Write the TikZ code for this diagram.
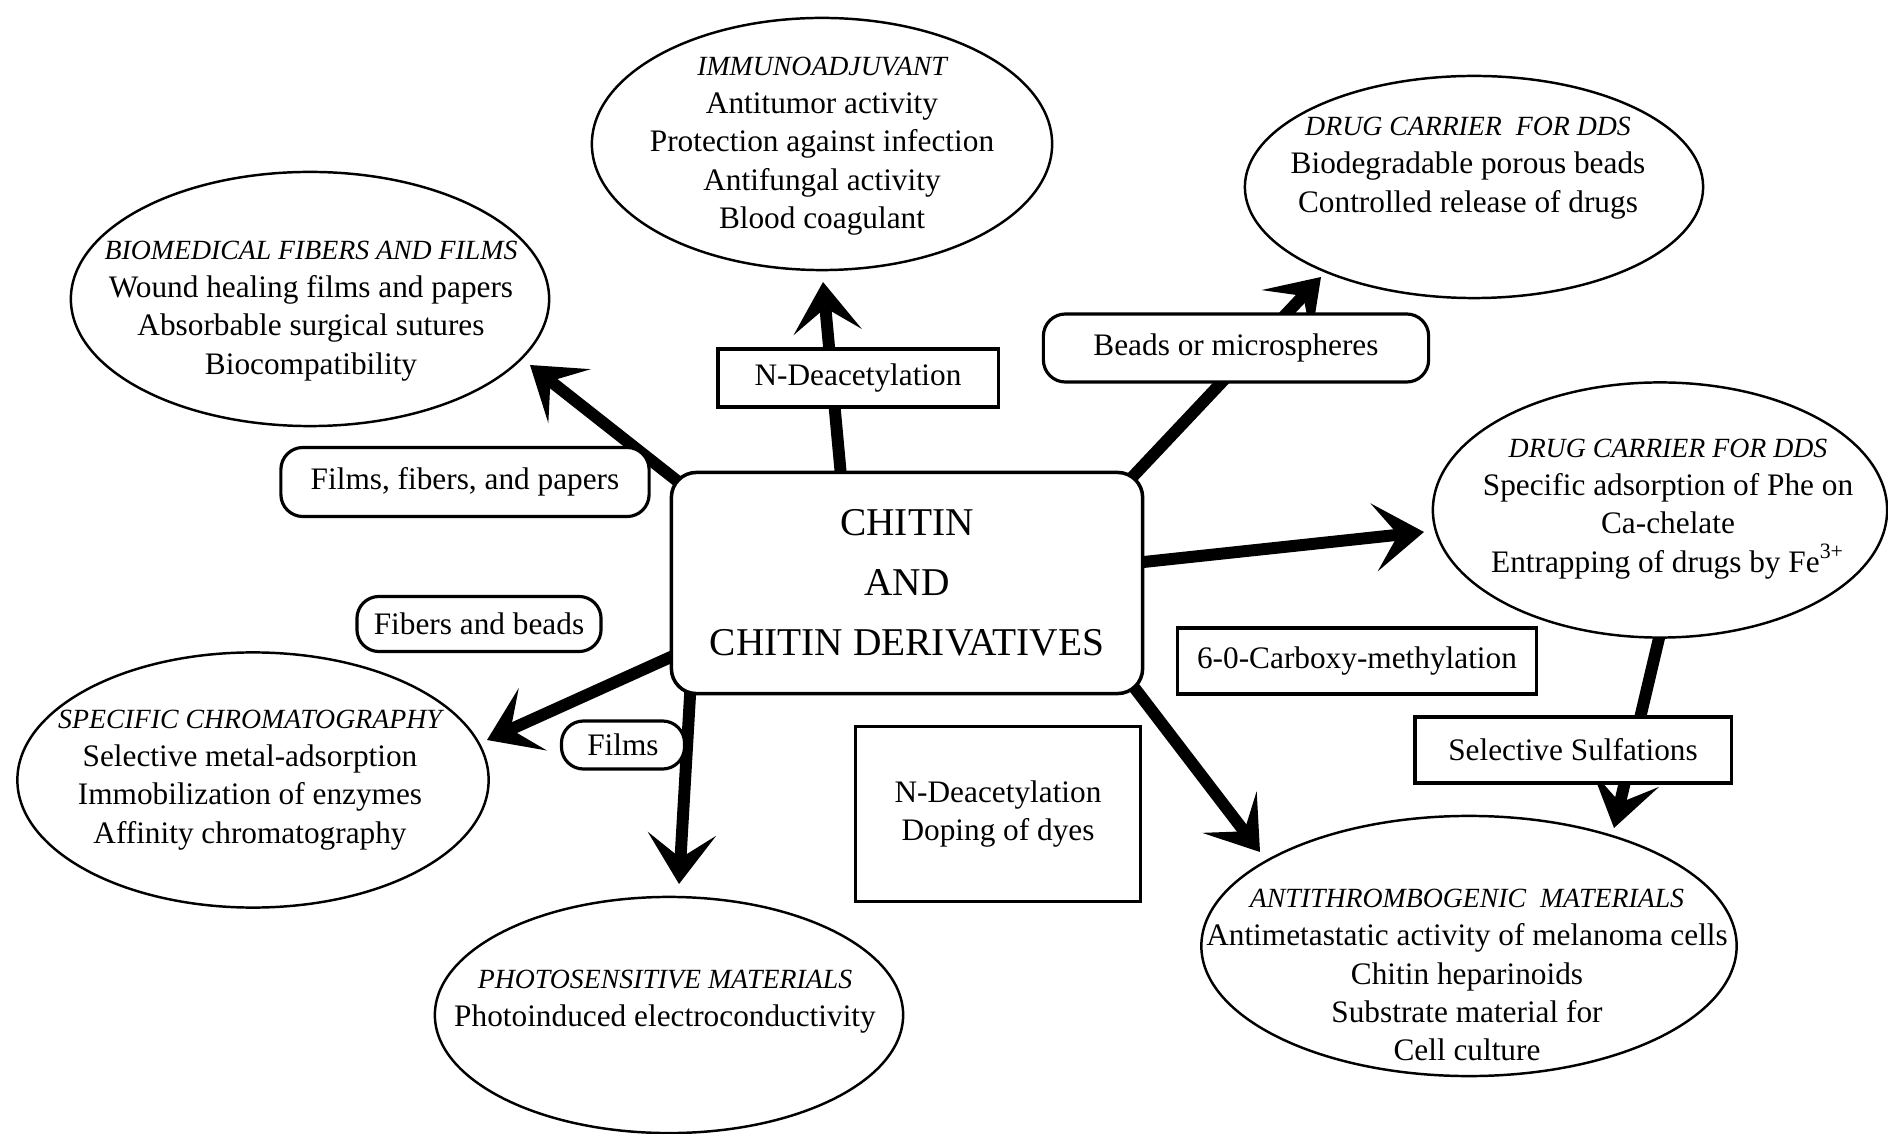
\documentclass[tikz,border=0pt]{standalone}
\usepackage{fontspec}
\setmainfont{Liberation Serif}
\usetikzlibrary{arrows.meta,shapes.geometric,backgrounds}

\newcommand{\bodyfont}{\fontsize{8.9}{10.9}\selectfont}
\newcommand{\headtxt}[1]{{\fontsize{7.9}{10.9}\selectfont\itshape #1}}

\tikzset{
	bubble/.style={draw, ellipse, line width=0.7pt, inner sep=0pt, fill=white},
	txt/.style={align=center, font=\bodyfont},
	tag/.style={draw, line width=0.9pt, fill=white, inner sep=2pt, font=\bodyfont},
	pill/.style={tag, rounded corners=0.22cm},
	arr/.style={line width=3.4pt, -{Stealth[length=0.5cm, width=0.68cm, inset=0.24cm]}},
}

\begin{document}
\begin{tikzpicture}[x=0.01cm, y=-0.01cm]
		\useasboundingbox (0,0) rectangle (1888,1134);

		% centre
		\node[draw, line width=1pt, rounded corners=0.25cm, fill=white, minimum width=4.71cm, minimum height=2.21cm, align=center, font=\fontsize{11.2}{17}\selectfont] (core) at (907,583) {CHITIN\\AND\\CHITIN DERIVATIVES};

		% uses
		\node[bubble, minimum width=4.60cm, minimum height=2.52cm] (immuno) at (822,144) {};
		\node[txt] (immuno-txt) at (822,146) {\headtxt{IMMUNOADJUVANT}\\Antitumor activity\\Protection against infection\\Antifungal activity\\Blood coagulant};

		\node[bubble, minimum width=4.58cm, minimum height=2.22cm] (ddsA) at (1474,187) {};
		\node[txt] (ddsA-txt) at (1468,168) {\headtxt{DRUG CARRIER\ \ FOR DDS}\\Biodegradable porous beads\\Controlled release of drugs};

		\node[bubble, minimum width=4.78cm, minimum height=2.54cm] (bio) at (310,299) {};
		\node[txt] (bio-txt) at (311,311) {\headtxt{BIOMEDICAL FIBERS AND FILMS}\\Wound healing films and papers\\Absorbable surgical sutures\\Biocompatibility};

		\node[bubble, minimum width=4.54cm, minimum height=2.55cm] (ddsB) at (1660,510) {};
		\node[txt] (ddsB-txt) at (1668,509) {\headtxt{DRUG CARRIER FOR DDS}\\Specific adsorption of Phe on\\Ca-chelate\\Entrapping of drugs by Fe\textsuperscript{3+}};

		\node[bubble, minimum width=4.71cm, minimum height=2.55cm] (chrom) at (253,780) {};
		\node[txt] (chrom-txt) at (250,780) {\headtxt{SPECIFIC CHROMATOGRAPHY}\\Selective metal-adsorption\\Immobilization of enzymes\\Affinity chromatography};

		\node[bubble, minimum width=4.68cm, minimum height=2.36cm] (photo) at (669,1015) {};
		\node[txt] (photo-txt) at (665,1002) {\headtxt{PHOTOSENSITIVE MATERIALS}\\Photoinduced electroconductivity};

		\node[bubble, minimum width=5.35cm, minimum height=2.60cm] (throm) at (1469,946) {};
		\node[txt] (throm-txt) at (1467,975) {\headtxt{ANTITHROMBOGENIC\ \ MATERIALS}\\Antimetastatic activity of melanoma cells\\Chitin heparinoids\\Substrate material for\\Cell culture};

		% routes
		\node[tag, minimum width=2.80cm, minimum height=0.58cm] (deacA) at (858,378) {N-Deacetylation};
		\node[pill, minimum width=3.85cm, minimum height=0.68cm] (beads) at (1236,348) {Beads or microspheres};
		\node[pill, minimum width=3.68cm, minimum height=0.69cm] (films-fibers) at (465,482) {Films, fibers, and papers};
		\node[pill, minimum width=2.44cm, minimum height=0.55cm] (fib-beads) at (479,624) {Fibers and beads};
		\node[pill, minimum width=1.23cm, minimum height=0.48cm] (films) at (623,745) {Films};
		\node[tag, minimum width=3.58cm, minimum height=0.66cm] (carboxy) at (1357,661) {6-0-Carboxy-methylation};
		\node[tag, minimum width=3.16cm, minimum height=0.66cm] (sulf) at (1573,750) {Selective Sulfations};
		\node[tag, minimum width=2.85cm, minimum height=1.75cm, align=center] (deacB) at (998,814) {N-Deacetylation\\Doping of dyes};

		% arrow ends
		\coordinate (immuno-tip) at (823,282);
		\coordinate (ddsA-tip) at (1321,277);
		\coordinate (bio-tip) at (530,365);
		\coordinate (ddsB-tip) at (1424,532);
		\coordinate (chrom-tip) at (487,740);
		\coordinate (photo-tip) at (679,884);
		\coordinate (throm-tip) at (1260,852);
		\coordinate (sulf-tip) at (1614,828);

		\begin{scope}[on background layer]
			\draw[arr] ([xshift=-0.66cm, yshift=-0.05cm]core.north) -- (immuno-tip);
			\draw[arr] ([xshift=-0.23cm, yshift=-0.18cm]core.north east) -- (ddsA-tip);
			\draw[arr] ([xshift=0.2cm, yshift=-0.2cm]core.north west) -- (bio-tip);
			\draw[arr] ([xshift=-0.1cm, yshift=0.2cm]core.east) -- (ddsB-tip);
			\draw[arr] ([xshift=0.1cm, yshift=-0.7cm]core.west) -- (chrom-tip);
			\draw[arr] ([xshift=0.21cm, yshift=0.1cm]core.south west) -- (photo-tip);
			\draw[arr] ([xshift=-0.18cm, yshift=0.18cm]core.south east) -- (throm-tip);
			\draw[arr] ([yshift=0.05cm]ddsB.south) -- (sulf-tip);
		\end{scope}
	\end{tikzpicture}
\end{document}
